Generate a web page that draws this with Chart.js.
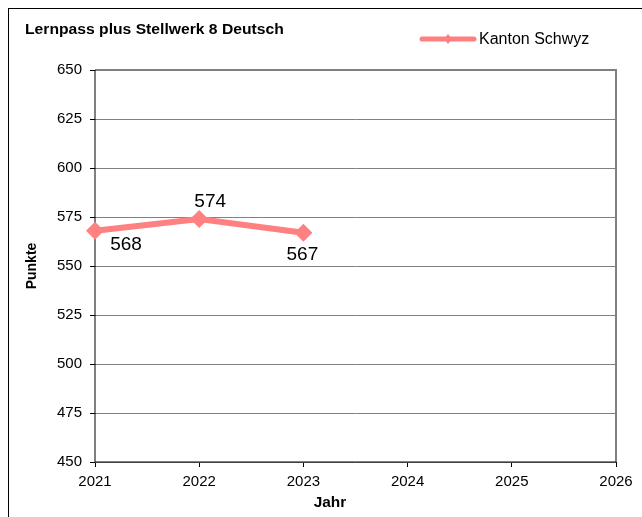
<!DOCTYPE html>
<html>
<head>
<meta charset="utf-8">
<script src="https://cdn.jsdelivr.net/npm/chart.js@4"></script>
<style>
html,body{margin:0;padding:0;background:#fff;}
#wrap{width:642px;height:517px;position:relative;}
</style>
</head>
<body>
<div id="wrap"><canvas id="c" width="642" height="517"></canvas></div>
<script>
const chartTitle = "Lernpass plus Stellwerk 8 Deutsch";
const seriesName = "Kanton Schwyz";
const years = [2021, 2022, 2023];
const values = [568, 574, 567];
const xTitle = "Jahr";
const yTitle = "Punkte";
const xMin = 2021, xMax = 2026;
const yMin = 450, yMax = 650, yStep = 25;

const FONT = "'Liberation Sans', Arial, sans-serif";
const PINK = "#FF8080";
const labelOffsets = [[31, 14], [11, -17], [-1, 22]];

function stretchText(ctx, text, x, y, sx) {
  ctx.save();
  ctx.translate(x, y);
  ctx.scale(sx, 1);
  ctx.fillText(text, 0, 0);
  ctx.restore();
}

const decor = {
  id: 'decor',
  beforeDatasetsDraw(chart) {
    const ctx = chart.ctx, a = chart.chartArea;
    ctx.save();
    ctx.strokeStyle = '#808080';
    ctx.lineWidth = 2;
    ctx.beginPath();
    ctx.moveTo(a.left, a.top);
    ctx.lineTo(a.right, a.top);
    ctx.lineTo(a.right, a.bottom);
    ctx.stroke();
    ctx.strokeStyle = '#000';
    ctx.lineWidth = 1;
    ctx.beginPath();
    ctx.moveTo(a.left, a.top); ctx.lineTo(a.left, a.bottom); ctx.lineTo(a.right, a.bottom);
    ctx.stroke();
    ctx.restore();
  },
  afterDraw(chart) {
    const ctx = chart.ctx, a = chart.chartArea;
    ctx.save();
    // outer border
    ctx.strokeStyle = '#000';
    ctx.lineWidth = 1;
    ctx.strokeRect(8.5, 8.5, 700, 600);
    // title
    ctx.fillStyle = '#000';
    ctx.font = "bold 14px " + FONT;
    ctx.textAlign = 'left';
    ctx.textBaseline = 'middle';
    stretchText(ctx, chartTitle, 25, 30, 1.12);
    // axis titles
    ctx.textAlign = 'center';
    ctx.font = "bold 14px " + FONT;
    stretchText(ctx, xTitle, 330, 503, 1.1);
    ctx.save();
    ctx.translate(32, (a.top + a.bottom) / 2);
    ctx.rotate(-Math.PI / 2);
    ctx.fillText(yTitle, 0, 0);
    ctx.restore();
    // legend
    ctx.strokeStyle = PINK;
    ctx.lineWidth = 5;
    ctx.lineCap = 'round';
    ctx.beginPath(); ctx.moveTo(422, 39); ctx.lineTo(474, 39); ctx.stroke();
    ctx.fillStyle = PINK;
    ctx.beginPath();
    ctx.moveTo(448, 34); ctx.lineTo(452, 39); ctx.lineTo(448, 44); ctx.lineTo(444, 39); ctx.closePath(); ctx.fill();
    ctx.fillStyle = '#000';
    ctx.font = "16px " + FONT;
    ctx.textAlign = 'left';
    stretchText(ctx, chart.data.datasets[0].label, 479, 40, 1.0);
    // data labels
    ctx.font = "19px " + FONT;
    ctx.textAlign = 'center';
    const meta = chart.getDatasetMeta(0);
    meta.data.forEach((pt, i) => {
      const o = labelOffsets[i];
      ctx.fillText(String(values[i]), pt.x + o[0], pt.y + o[1]);
    });
    ctx.restore();
  }
};

new Chart(document.getElementById('c'), {
  type: 'line',
  data: {
    datasets: [{
      label: seriesName,
      data: years.map((y, i) => ({x: y, y: values[i]})),
      borderColor: PINK,
      backgroundColor: PINK,
      borderWidth: 6,
      pointStyle: 'rectRot',
      pointRadius: 9,
      pointHoverRadius: 9,
      pointBorderWidth: 0,
      tension: 0,
      clip: false
    }]
  },
  options: {
    responsive: false,
    animation: false,
    events: [],
    layout: { padding: { left: 0, top: 70, right: 26, bottom: 0 } },
    plugins: { legend: { display: false }, title: { display: false }, tooltip: { enabled: false } },
    scales: {
      x: {
        type: 'linear',
        min: xMin, max: xMax,
        afterFit(s) { s.height = 55; },
        ticks: { stepSize: 1, color: '#000', font: { family: FONT, size: 15 }, padding: 6,
                 callback: v => String(v) },
        grid: { drawOnChartArea: false, drawTicks: true, tickLength: 5, tickColor: '#000' },
        border: { display: false }
      },
      y: {
        min: yMin, max: yMax,
        afterFit(s) { s.width = 95; },
        ticks: { stepSize: yStep, color: '#000', font: { family: FONT, size: 15 }, padding: 8 },
        grid: { color: '#808080', lineWidth: 1, tickLength: 5, tickColor: '#000' },
        border: { display: false }
      }
    }
  },
  plugins: [decor]
});
</script>
</body>
</html>
